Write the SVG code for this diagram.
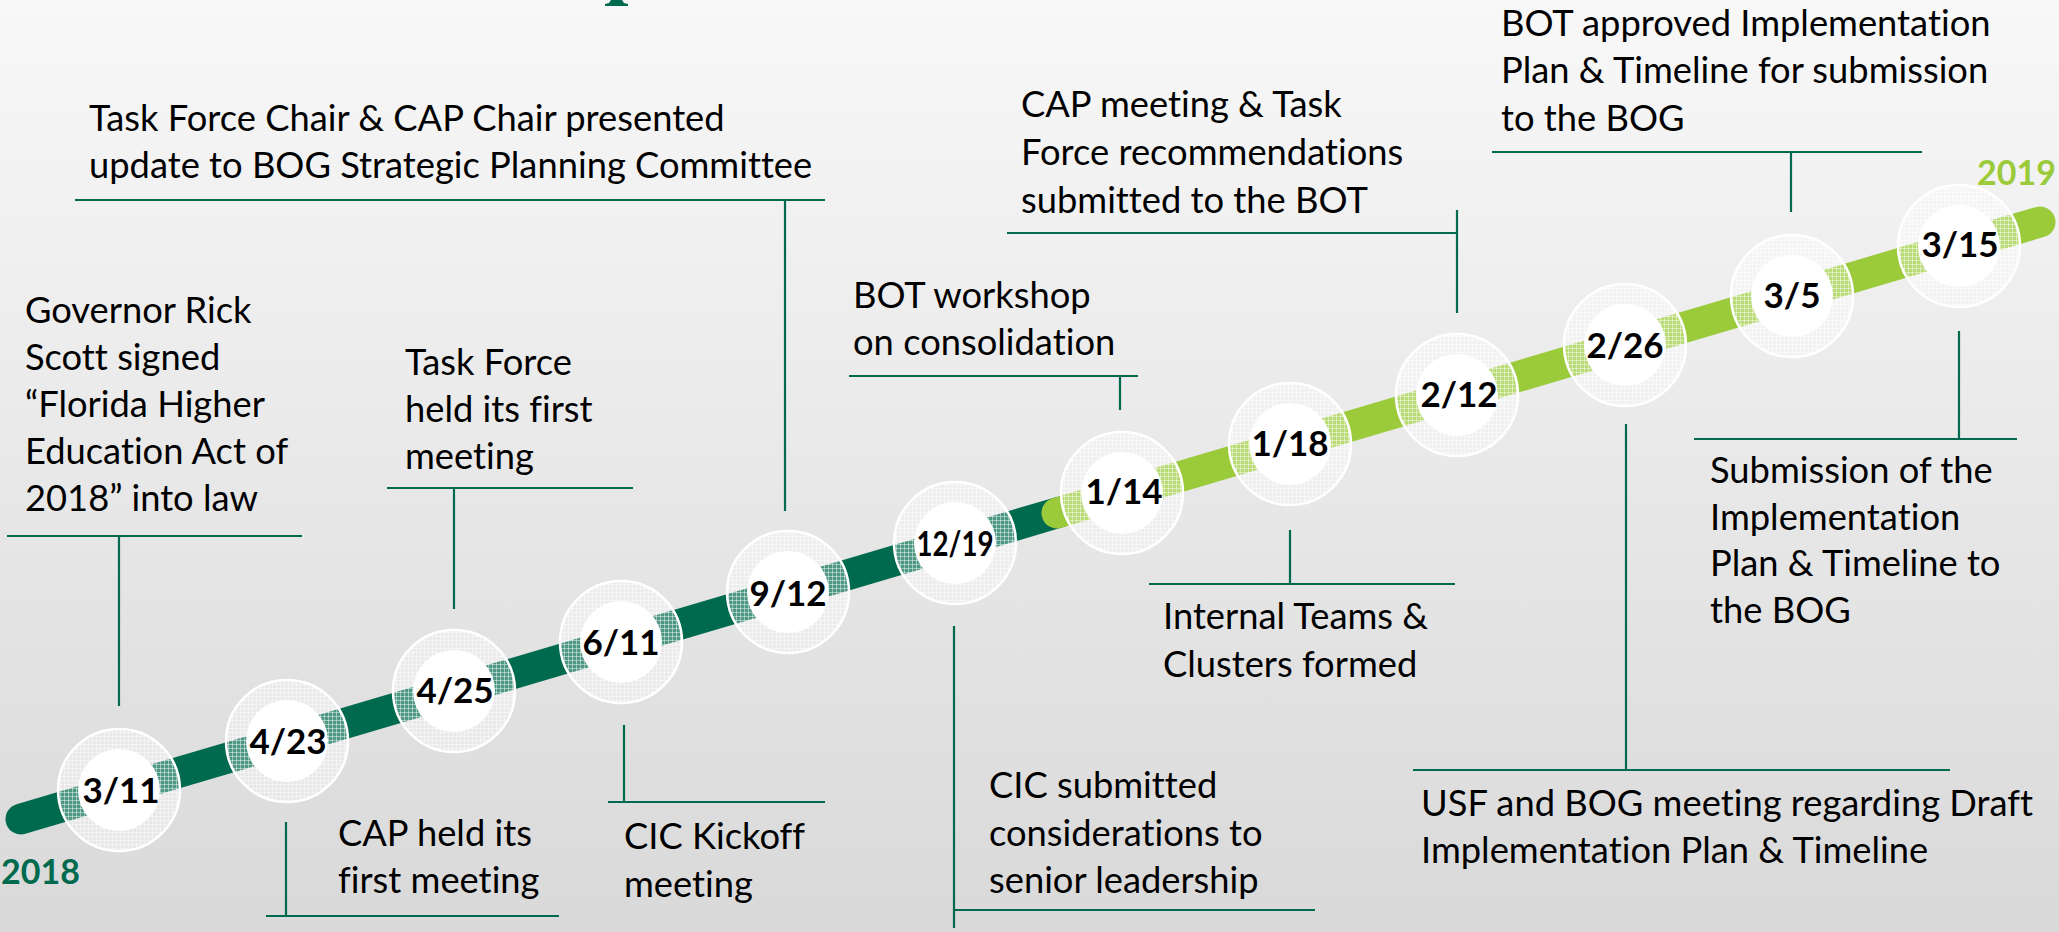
<svg xmlns="http://www.w3.org/2000/svg" width="2059" height="932" viewBox="0 0 2059 932">
<defs>
<linearGradient id="bg" x1="0" y1="0" x2="0" y2="1">
<stop offset="0" stop-color="#F8F8F8"/>
<stop offset="1" stop-color="#D9D9D9"/>
</linearGradient>
<pattern id="hatch" width="4" height="4" patternUnits="userSpaceOnUse">
<rect width="4" height="4" fill="#FFFFFF" fill-opacity="0.3"/>
<rect width="4" height="1" fill="#FFFFFF" fill-opacity="0.45"/>
<rect width="1" height="4" fill="#FFFFFF" fill-opacity="0.45"/>
</pattern>
</defs>
<style>
text{font-variant-ligatures:none;font-feature-settings:"liga" 0,"clig" 0}
.lbl{font-family:Lato,"Open Sans",sans-serif;font-size:36.3px;fill:#000}
.date{font-family:Lato,"Open Sans",sans-serif;font-size:35px;font-weight:bold;fill:#000;text-anchor:middle}
.ring{fill:url(#hatch);stroke:#FFFFFF;stroke-width:2.5}
.core{fill:#FFFFFF}
.ln{stroke:#006A4E;stroke-width:2.2;fill:none}
.yr{font-family:Lato,"Open Sans",sans-serif;font-size:34px;font-weight:bold}
</style>
<rect width="2059" height="932" fill="url(#bg)"/>
<path d="M611,0 L622,0 L624,3 L628,4 L628,6 L605,6 L605,4 L609,3 Z" fill="#006A4E"/>

<g id="timeline">
<line x1="21" y1="819" x2="1060" y2="512" stroke="#006A4E" stroke-width="31" stroke-linecap="round"/>
<line x1="1057" y1="513" x2="2040" y2="222" stroke="#9BCB3B" stroke-width="31" stroke-linecap="round"/>
<text class="yr" x="1" y="884" fill="#006A4E">2018</text>
<text class="yr" x="1977" y="185" fill="#9BCB3B">2019</text>
</g>

<g id="connectors">
<path class="ln" d="M75,200 H825 M785,200 V511"/>
<path class="ln" d="M7,536 H302 M119,536 V706"/>
<path class="ln" d="M387,488 H633 M454,488 V609"/>
<path class="ln" d="M286,822 V916 M266,916 H559"/>
<path class="ln" d="M624,725 V802 M608,802 H825"/>
<path class="ln" d="M849,376 H1138 M1120,376 V410"/>
<path class="ln" d="M1007,233 H1457 M1457,210 V313"/>
<path class="ln" d="M1492,152 H1922 M1791,152 V212"/>
<path class="ln" d="M1290,530 V584 M1149,584 H1455"/>
<path class="ln" d="M954,626 V928 M954,910 H1315"/>
<path class="ln" d="M1959,331 V439 M1694,439 H2017"/>
<path class="ln" d="M1626,424 V770 M1413,770 H1950"/>
</g>

<g id="m-0311"><circle class="ring" cx="119" cy="790" r="61"/><circle class="core" cx="119" cy="790" r="41"/><text class="date" x="121" y="803">3/11</text></g>
<g id="m-0423"><circle class="ring" cx="287" cy="741" r="61"/><circle class="core" cx="287" cy="741" r="41"/><text class="date" x="288" y="754">4/23</text></g>
<g id="m-0425"><circle class="ring" cx="454" cy="691" r="61"/><circle class="core" cx="454" cy="691" r="41"/><text class="date" x="455" y="703">4/25</text></g>
<g id="m-0611"><circle class="ring" cx="621" cy="642" r="61"/><circle class="core" cx="621" cy="642" r="41"/><text class="date" x="621" y="655">6/11</text></g>
<g id="m-0912"><circle class="ring" cx="788" cy="592" r="61"/><circle class="core" cx="788" cy="592" r="41"/><text class="date" x="788" y="606">9/12</text></g>
<g id="m-1219"><circle class="ring" cx="955" cy="543" r="61"/><circle class="core" cx="955" cy="543" r="41"/><text class="date" x="955" y="556" textLength="77" lengthAdjust="spacingAndGlyphs">12/19</text></g>
<g id="m-0114"><circle class="ring" cx="1122" cy="493" r="61"/><circle class="core" cx="1122" cy="493" r="41"/><text class="date" x="1124" y="504">1/14</text></g>
<g id="m-0118"><circle class="ring" cx="1290" cy="444" r="61"/><circle class="core" cx="1290" cy="444" r="41"/><text class="date" x="1290" y="456">1/18</text></g>
<g id="m-0212"><circle class="ring" cx="1457" cy="395" r="61"/><circle class="core" cx="1457" cy="395" r="41"/><text class="date" x="1459" y="407">2/12</text></g>
<g id="m-0226"><circle class="ring" cx="1625" cy="345" r="61"/><circle class="core" cx="1625" cy="345" r="41"/><text class="date" x="1625" y="358">2/26</text></g>
<g id="m-0305"><circle class="ring" cx="1792" cy="296" r="61"/><circle class="core" cx="1792" cy="296" r="41"/><text class="date" x="1792" y="308">3/5</text></g>
<g id="m-0315"><circle class="ring" cx="1959" cy="246" r="61"/><circle class="core" cx="1959" cy="246" r="41"/><text class="date" x="1960" y="257">3/15</text></g>

<g id="n-taskforce-chair"><text class="lbl" x="89" y="131">Task Force Chair &amp; CAP Chair presented</text><text class="lbl" x="89" y="178">update to BOG Strategic Planning Committee</text></g>
<g id="n-governor"><text class="lbl" x="25" y="323">Governor Rick</text><text class="lbl" x="25" y="370">Scott signed</text><text class="lbl" x="25" y="417">“Florida Higher</text><text class="lbl" x="25" y="464">Education Act of</text><text class="lbl" x="25" y="511">2018” into law</text></g>
<g id="n-taskforce-first"><text class="lbl" x="405" y="375">Task Force</text><text class="lbl" x="405" y="422">held its first</text><text class="lbl" x="405" y="469">meeting</text></g>
<g id="n-cap-first"><text class="lbl" x="338" y="846">CAP held its</text><text class="lbl" x="338" y="893">first meeting</text></g>
<g id="n-cic-kickoff"><text class="lbl" x="624" y="849">CIC Kickoff</text><text class="lbl" x="624" y="897">meeting</text></g>
<g id="n-bot-workshop"><text class="lbl" x="853" y="308">BOT workshop</text><text class="lbl" x="853" y="355">on consolidation</text></g>
<g id="n-cap-meeting"><text class="lbl" x="1021" y="117">CAP meeting &amp; Task</text><text class="lbl" x="1021" y="165">Force recommendations</text><text class="lbl" x="1021" y="213">submitted to the BOT</text></g>
<g id="n-bot-approved"><text class="lbl" x="1501" y="36">BOT approved Implementation</text><text class="lbl" x="1501" y="83">Plan &amp; Timeline for submission</text><text class="lbl" x="1501" y="131">to the BOG</text></g>
<g id="n-internal-teams"><text class="lbl" x="1163" y="629">Internal Teams &amp;</text><text class="lbl" x="1163" y="677">Clusters formed</text></g>
<g id="n-cic-submitted"><text class="lbl" x="989" y="798">CIC submitted</text><text class="lbl" x="989" y="846">considerations to</text><text class="lbl" x="989" y="893">senior leadership</text></g>
<g id="n-submission"><text class="lbl" x="1710" y="483">Submission of the</text><text class="lbl" x="1710" y="530">Implementation</text><text class="lbl" x="1710" y="576">Plan &amp; Timeline to</text><text class="lbl" x="1710" y="623">the BOG</text></g>
<g id="n-usf-bog"><text class="lbl" x="1421" y="816">USF and BOG meeting regarding Draft</text><text class="lbl" x="1421" y="863">Implementation Plan &amp; Timeline</text></g>
</svg>
